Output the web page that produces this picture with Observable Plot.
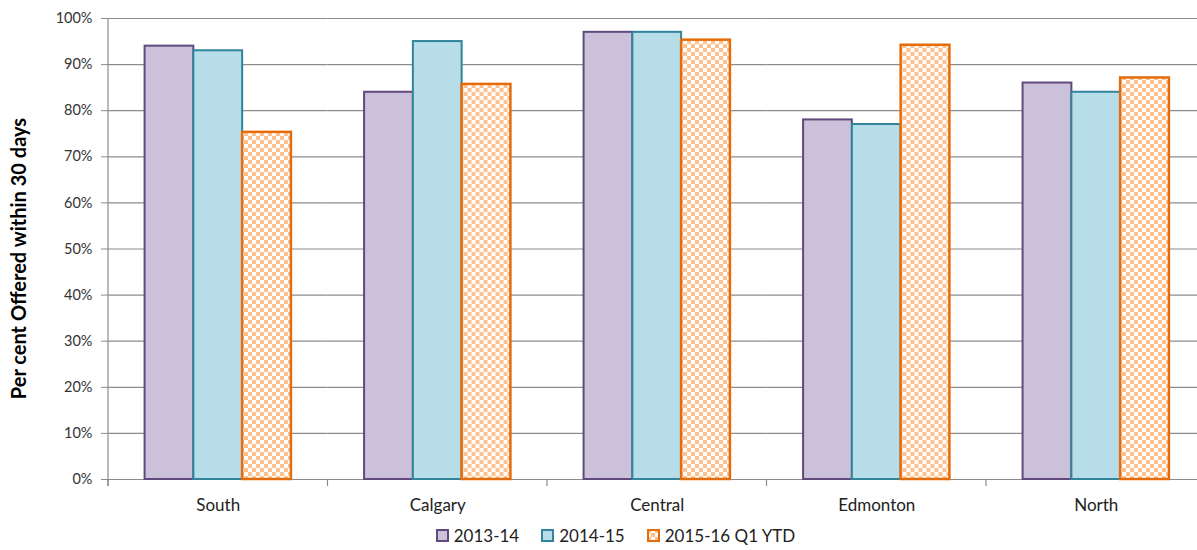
<!DOCTYPE html>
<html><head><meta charset="utf-8">
<script src="https://cdn.jsdelivr.net/npm/d3@7"></script>
<script src="https://cdn.jsdelivr.net/npm/@observablehq/plot@0.6"></script>
<style>
body{margin:0;background:#fff;font-family:Lato,"Open Sans",sans-serif;overflow:hidden;}
#chart{width:1197px;height:520px;overflow:hidden;}
#chart svg{max-width:none !important;display:block;}
#legend{display:flex;justify-content:center;gap:22px;font-size:17px;color:#222;width:1197px;box-sizing:border-box;padding-left:34px;height:30px;align-items:center;}
#legend .item{display:flex;align-items:center;gap:5px;}
</style></head><body><div id="chart"></div><div id="legend"></div>
<script>
const regions = ["South", "Calgary", "Central", "Edmonton", "North"];
const seriesNames = ["2013-14", "2014-15", "2015-16 Q1 YTD"];
const v2013 = [94, 84, 97, 78, 86];
const v2014 = [93, 95, 97, 77, 84];
const v2015 = [75.3, 85.7, 95.3, 94.2, 87.1];
const yTicks = [0, 10, 20, 30, 40, 50, 60, 70, 80, 90, 100];
const yLabel = "Per cent Offered within 30 days";

const seriesValues = [v2013, v2014, v2015];
const fills = ["#CCC1DA", "#B7DDE8", "url(#check)"];
const strokes = ["#604A7B", "#31849B", "#E46C0A"];

const rows = [];
seriesNames.forEach((s, i) => regions.forEach((r, j) => rows.push({region: r, series: s, value: seriesValues[i][j]})));

const plot = Plot.plot({
  width: 1206, height: 520,
  marginLeft: 108, marginRight: 0.5, marginTop: 18, marginBottom: 41,
  style: {fontFamily: "Lato, 'Open Sans', sans-serif", color: "#333", background: "#fff", maxWidth: "none"},
  fx: {domain: regions, padding: 0, round: false, label: null},
  x: {domain: seriesNames, paddingInner: 0, paddingOuter: 0.75, round: false, axis: null},
  y: {domain: [0, 100], label: null},
  marks: [
    Plot.gridY(yTicks, {stroke: "#8c8c8c", strokeOpacity: 1, strokeWidth: 1.2}),
    ...seriesNames.map((s, i) => Plot.barY(rows.filter(d => d.series === s), {
      fx: "region", x: "series", y: "value",
      fill: fills[i], stroke: strokes[i], strokeWidth: i === 2 ? 2.5 : 2
    })),
    Plot.axisY(yTicks, {tickFormat: d => d + "%", tickSize: 7, tickPadding: 9, stroke: "#8c8c8c", fill: "#333", fontSize: 14.5, label: null}),
    Plot.axisFx({anchor: "bottom", tickSize: 0, tickPadding: 19, fontSize: 17, fill: "#222", label: null})
  ]
});
plot.style.maxWidth = "none";

const svg = d3.select(plot);
const defs = svg.insert("defs", ":first-child");
const pat = defs.append("pattern").attr("id", "check").attr("patternUnits", "userSpaceOnUse")
  .attr("width", 8).attr("height", 8);
pat.append("rect").attr("width", 8).attr("height", 8).attr("fill", "#fff");
pat.append("rect").attr("width", 4).attr("height", 4).attr("fill", "#FFC08E");
pat.append("rect").attr("x", 4).attr("y", 4).attr("width", 4).attr("height", 4).attr("fill", "#FFC08E");

const fx = plot.scale("fx"), y = plot.scale("y");
const y0 = y.apply(0), y1 = y.apply(100);
const edges = regions.map(r => fx.apply(r)).concat([fx.apply(regions[regions.length - 1]) + fx.bandwidth]);
const g = svg.append("g").attr("stroke", "#8c8c8c").attr("stroke-width", 1.2);
g.append("line").attr("x1", edges[0]).attr("x2", edges[0]).attr("y1", y1).attr("y2", y0 + 7);
edges.forEach(e => g.append("line").attr("x1", e).attr("x2", e).attr("y1", y0).attr("y2", y0 + 7));
svg.append("text").attr("transform", `translate(21,${(y0 + y1) / 2 + 10}) rotate(-90)`)
  .attr("text-anchor", "middle").attr("dominant-baseline", "middle")
  .attr("font-weight", "bold").attr("font-size", 20).attr("fill", "#000").text(yLabel);

document.getElementById("chart").appendChild(plot);

const legend = document.getElementById("legend");
seriesNames.forEach((s, i) => {
  const item = document.createElement("div");
  item.className = "item";
  item.innerHTML = `<svg width="13" height="13"><rect x="1" y="1" width="11" height="11" fill="${fills[i]}" stroke="${strokes[i]}" stroke-width="2"/></svg><span>${s}</span>`;
  legend.appendChild(item);
});
</script></body></html>
